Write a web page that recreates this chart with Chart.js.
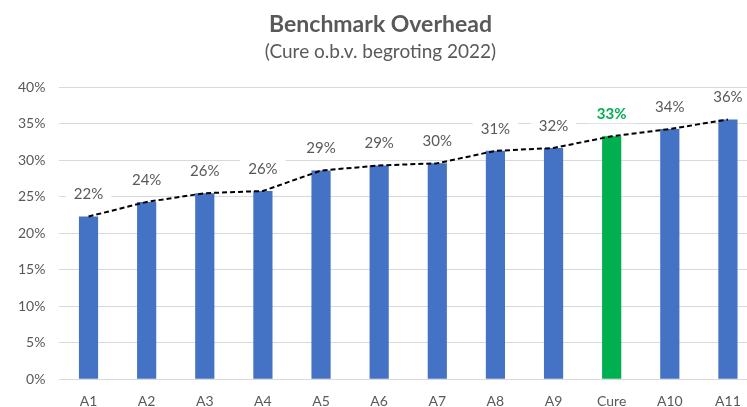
<!DOCTYPE html>
<html>
<head>
<meta charset="utf-8">
<script src="https://cdn.jsdelivr.net/npm/chart.js@4"></script>
<style>
  html, body { margin: 0; padding: 0; background: #fff; overflow: hidden; }
  #wrap { width: 747px; height: 407px; overflow: hidden; }
  #wrap div { width: 776px; height: 416px; }
</style>
</head>
<body>
<div id="wrap"><div><canvas id="overheadChart"></canvas></div></div>
<script>
// overhead as % of budget
var categories = ['A1', 'A2', 'A3', 'A4', 'A5', 'A6', 'A7', 'A8', 'A9', 'Cure', 'A10', 'A11'];
var overhead = [22.3, 24.3, 25.5, 25.8, 28.6, 29.3, 29.6, 31.3, 31.7, 33.3, 34.3, 35.6];
var yTicks = [0, 5, 10, 15, 20, 25, 30, 35, 40];

var FONT = 'Lato, "Open Sans", sans-serif';
var GREY = '#595959';
var BLUE = '#4472C4';
var GREEN = '#00B050';

var barColors = categories.map(function (c) { return c === 'Cure' ? GREEN : BLUE; });

// labels above bars, with white box that cuts the gridlines
var valueLabels = {
  id: 'valueLabels',
  afterDatasetsDraw: function (chart) {
    var ctx = chart.ctx;
    var meta = chart.getDatasetMeta(0);
    ctx.save();
    ctx.textAlign = 'center';
    ctx.textBaseline = 'middle';
    meta.data.forEach(function (bar, i) {
      var isCure = categories[i] === 'Cure';
      var txt = Math.round(overhead[i]) + '%';
      ctx.font = (isCure ? 'bold ' : '') + '15px ' + FONT;
      var w = ctx.measureText(txt).width;
      var y = bar.y - 22;
      ctx.fillStyle = '#fff';
      ctx.fillRect(bar.x - w / 2 - 8, y - 9, w + 16, 18);
      ctx.fillStyle = isCure ? GREEN : GREY;
      ctx.fillText(txt, bar.x, y);
    });
    ctx.restore();
  }
};

new Chart(document.getElementById('overheadChart'), {
  type: 'bar',
  data: {
    labels: categories,
    datasets: [
      {
        type: 'line',
        data: overhead,
        borderColor: '#000',
        borderWidth: 2,
        borderDash: [5, 3],
        pointRadius: 0,
        fill: false,
        tension: 0,
        order: 0
      },
      {
        data: overhead,
        backgroundColor: barColors,
        barPercentage: 0.33,
        categoryPercentage: 1,
        order: 1
      }
    ]
  },
  options: {
    responsive: true,
    maintainAspectRatio: false,
    animation: false,
    layout: { padding: { top: 8, left: 4, right: 19, bottom: 0 } },
    plugins: {
      legend: { display: false },
      tooltip: { enabled: false },
      title: {
        display: true,
        text: 'Benchmark Overhead',
        color: GREY,
        font: { family: FONT, size: 23, weight: 'bold' },
        padding: { top: 3, bottom: 2 }
      },
      subtitle: {
        display: true,
        text: '(Cure o.b.v. begroting 2022)',
        color: GREY,
        font: { family: FONT, size: 19 },
        padding: { bottom: 24 }
      }
    },
    scales: {
      x: {
        grid: { display: false },
        border: { display: false },
        ticks: { color: GREY, font: { family: FONT, size: 14 }, padding: 6 }
      },
      y: {
        min: 0,
        max: 40,
        afterBuildTicks: function (axis) {
          axis.ticks = yTicks.map(function (v) { return { value: v }; });
        },
        grid: { color: '#d9d9d9', lineWidth: 1, drawTicks: false },
        border: { display: false },
        ticks: {
          color: GREY,
          font: { family: FONT, size: 14 },
          padding: 14,
          callback: function (v) { return v + '%'; }
        }
      }
    }
  },
  plugins: [valueLabels]
});
</script>
</body>
</html>
